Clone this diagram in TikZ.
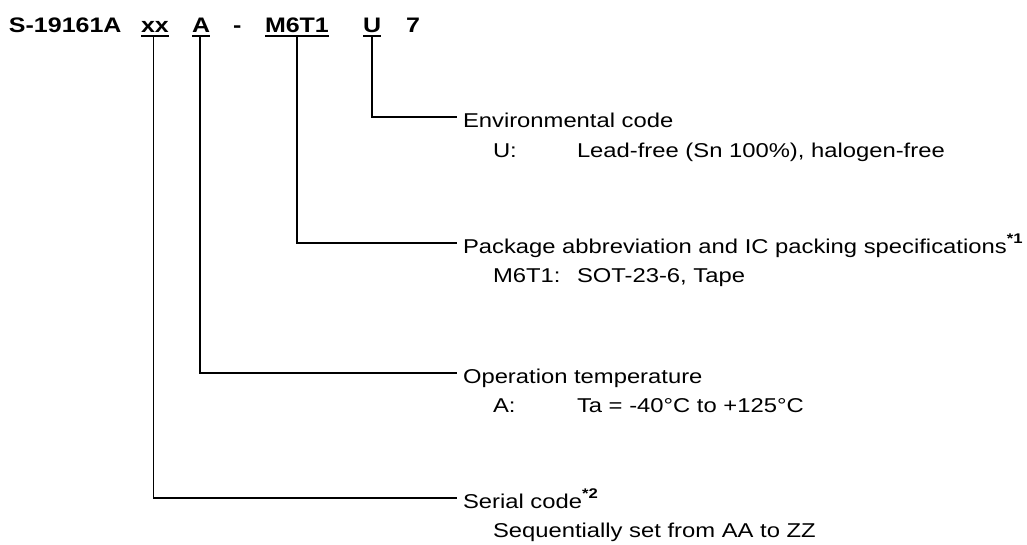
\documentclass[tikz,border=0pt]{standalone}
\usepackage{fontspec}
\setmainfont{Liberation Sans}[FakeStretch=1.19]
\begin{document}
\begin{tikzpicture}[x=1pt,y=-1pt,
  every node/.style={inner sep=0pt,outer sep=0pt,anchor=base west,font=\fontsize{20pt}{24pt}\selectfont},
  code/.style={font=\fontsize{21pt}{25pt}\selectfont\bfseries},
  conn/.style={line width=1.5pt},
  uline/.style={line width=1.8pt}]
\useasboundingbox (0,0) rectangle (1027,544);
% title
\node[code] (pre) at (9,32) {S-19161A};
\node[code] (xx) at (141,32) {xx};
\node[code] (tA) at (192,32) {A};
\node[code] (dash) at (233,32) {-};
\node[code] (pkg) at (265,32) {M6T1};
\node[code] (tU) at (363,32) {U};
\node[code] (seven) at (406,32) {7};
% underlines
\foreach \n in {xx,tA,pkg,tU}
  \draw[uline] ([yshift=-4pt]\n.base west) -- ([yshift=-4pt]\n.base east);
% labels
\newcommand{\supmark}[1]{\raisebox{10pt}{\fontsize{14pt}{14pt}\selectfont\bfseries #1}}
\node (env) at (463,127.5) {Environmental code};
\node (envk) at (493,157) {U:};
\node (envv) at (577,157) {Lead-free (Sn 100\%), halogen-free};
\node (pkl) at (463,253.5) {Package abbreviation and IC packing specifications\supmark{*1}};
\node (pkk) at (493,282) {M6T1:};
\node (pkv) at (577,282) {SOT-23-6, Tape};
\node (opl) at (463,383.5) {Operation temperature};
\node (opk) at (493,412.5) {A:};
\node (opv) at (577,412.5) {Ta = -40°C to +125°C};
\node (sel) at (463,508.5) {Serial code\supmark{*2}};
\node (selv) at (493,537.5) {Sequentially set from AA to ZZ};
% connectors
\draw[conn] ([yshift=-5pt]tU.base) |- ([shift={(-6.5pt,10.6pt)}]env.base west);
\draw[conn] ([yshift=-5pt]pkg.base) |- ([shift={(-6.5pt,10.6pt)}]pkl.base west);
\draw[conn] ([shift={(-1pt,-5pt)}]tA.base) |- ([shift={(-6.5pt,10.6pt)}]opl.base west);
\draw[conn] ([shift={(-1.5pt,-5pt)}]xx.base) |- ([shift={(-6.5pt,10.6pt)}]sel.base west);
\end{tikzpicture}
\end{document}
